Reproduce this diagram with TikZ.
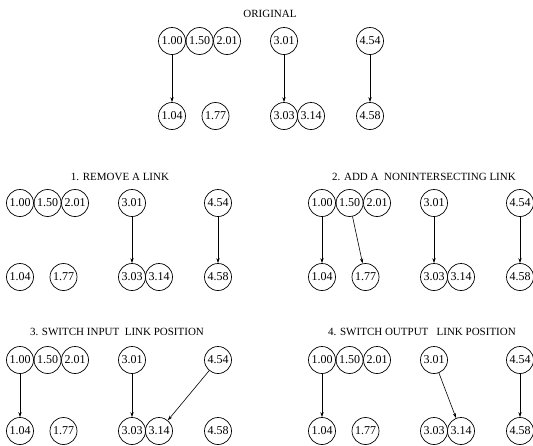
\documentclass[tikz,border=0pt]{standalone}
\usepackage{fontspec}
\setmainfont{Liberation Serif}
\usetikzlibrary{arrows.meta}
\tikzstyle{vertex} = [circle, draw, line width=0.7pt, minimum size=27pt, inner sep=0pt, font=\fontsize{12}{14}\selectfont]
\tikzstyle{caption} = [font=\fontsize{11}{13}\selectfont]
\tikzstyle{link} = [-{Stealth[length=5pt,width=3.2pt]}, line width=0.6pt]

% the ten values of one panel: prefix, left x, top row y, bottom row y
\newcommand{\panelnodes}[4]{%
\node (#1100) [vertex] at (#2,#3) {1.00};
\node (#1150) [vertex] at (#2+27.6,#3) {1.50};
\node (#1201) [vertex] at (#2+55,#3) {2.01};
\node (#1301) [vertex] at (#2+112,#3) {3.01};
\node (#1454) [vertex] at (#2+198,#3) {4.54};
\node (#1104) [vertex] at (#2,#4) {1.04};
\node (#1177) [vertex] at (#2+43.5,#4) {1.77};
\node (#1303) [vertex] at (#2+112,#4) {3.03};
\node (#1314) [vertex] at (#2+139,#4) {3.14};
\node (#1458) [vertex] at (#2+198,#4) {4.58};
}

\begin{document}
\begin{tikzpicture}[x=1pt, y=-1pt]
\useasboundingbox (0,0) rectangle (533,445);

% Original
\node (origtitle) [caption] at (270,14) {ORIGINAL};
\panelnodes{orig}{172}{41}{116}
\draw[link] (orig100) -- (orig104);
\draw[link] (orig301) -- (orig303);
\draw[link] (orig454) -- (orig458);

% 1. remove
\node (remtitle) [caption] at (120,177) {1. REMOVE A LINK};
\panelnodes{rem}{20}{203}{277}
\draw[link] (rem301) -- (rem303);
\draw[link] (rem454) -- (rem458);

% 2. add
\node (addtitle) [caption] at (424,177) {2. ADD A\ \ NONINTERSECTING LINK};
\panelnodes{add}{322}{203}{277}
\draw[link] (add100) -- (add104);
\draw[link] (add150) -- (add177);
\draw[link] (add301) -- (add303);
\draw[link] (add454) -- (add458);

% 3. switch input
\node (inptitle) [caption] at (117,332) {3. SWITCH INPUT\ \ LINK POSITION};
\panelnodes{inp}{20}{360}{431}
\draw[link] (inp100) -- (inp104);
\draw[link] (inp301) -- (inp303);
\draw[link] (inp454) -- (inp314);

% 4. switch output
\node (outtitle) [caption] at (422,332) {4. SWITCH OUTPUT\ \ \ LINK POSITION};
\panelnodes{out}{322}{360}{431}
\draw[link] (out100) -- (out104);
\draw[link] (out301) -- (out314);
\draw[link] (out454) -- (out458);
\end{tikzpicture}
\end{document}
